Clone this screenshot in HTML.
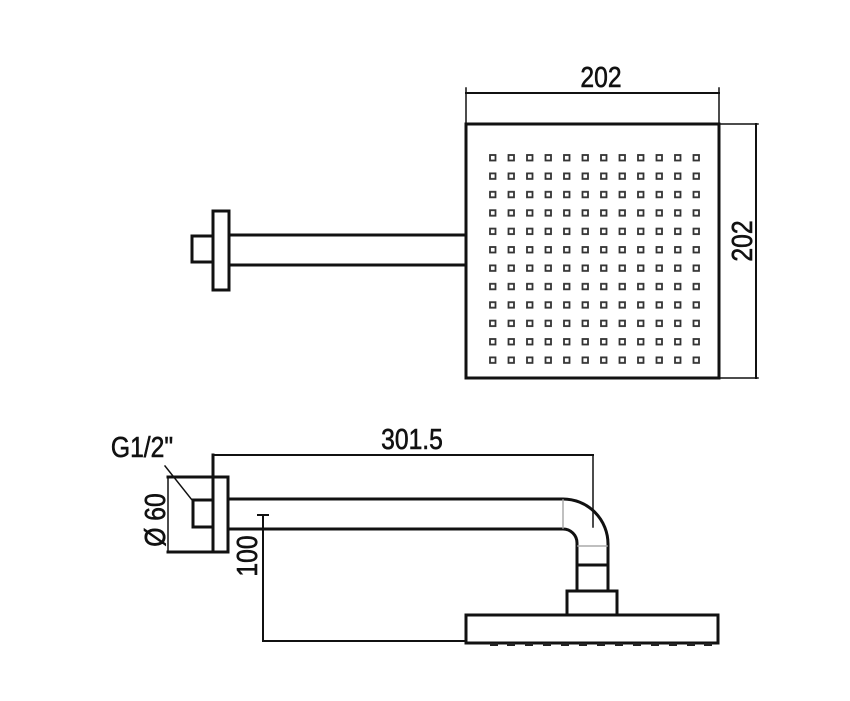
<!DOCTYPE html>
<html><head><style>body{margin:0;background:#fff}svg{display:block}</style></head><body>
<svg width="850" height="701" viewBox="0 0 850 701" xmlns="http://www.w3.org/2000/svg" font-family="'Liberation Sans Narrow','Liberation Sans',sans-serif">
<defs>
<pattern id="d" x="489" y="154" width="18.5" height="18.4" patternUnits="userSpaceOnUse">
<rect x="1" y="1" width="5.5" height="5.5" fill="none" stroke="#333" stroke-width="1.8"/>
</pattern>
</defs>
<g fill="none" stroke="#111" stroke-linecap="square">
<rect x="466" y="124" width="253" height="254" stroke-width="3"/>
<rect x="488" y="153" width="222" height="221" fill="url(#d)" stroke="none"/>
<line x1="466" y1="88" x2="466" y2="124" stroke-width="1.5"/>
<line x1="719" y1="88" x2="719" y2="124" stroke-width="1.5"/>
<line x1="466" y1="93" x2="719" y2="93" stroke-width="2"/>
<line x1="719" y1="124" x2="758" y2="124" stroke-width="1.5"/>
<line x1="719" y1="378" x2="758" y2="378" stroke-width="1.5"/>
<line x1="756" y1="124" x2="756" y2="378" stroke-width="2"/>
<rect x="192" y="236" width="21" height="26" stroke-width="3"/>
<rect x="213" y="211" width="16" height="79" stroke-width="3"/>
<line x1="229" y1="235" x2="466" y2="235" stroke-width="3"/>
<line x1="229" y1="265" x2="466" y2="265" stroke-width="3"/>
<line x1="213" y1="455" x2="593" y2="455" stroke-width="2"/>
<line x1="593" y1="455" x2="593" y2="527" stroke-width="1.5"/>
<line x1="213" y1="455" x2="213" y2="552" stroke-width="3"/>
<polyline points="168,477 228,477 228,552 168,552" stroke-width="3"/>
<line x1="168" y1="477" x2="168" y2="552" stroke-width="1.5"/>
<rect x="193" y="500" width="20" height="27" stroke-width="3"/>
<line x1="165" y1="466" x2="192" y2="500" stroke-width="1.5"/>
<path d="M229 499 H563 A45 45 0 0 1 608 544 V590" stroke-width="3"/>
<path d="M229 529 H563 A14 14 0 0 1 577 543 V590" stroke-width="3"/>
<line x1="563" y1="500" x2="563" y2="528" stroke="#aaa" stroke-width="1.5"/>
<line x1="578" y1="546" x2="607" y2="546" stroke="#aaa" stroke-width="1.5"/>
<line x1="577" y1="565" x2="608" y2="565" stroke-width="3"/>
<rect x="567" y="591" width="50" height="24" stroke-width="3"/>
<rect x="466" y="615" width="252" height="28" stroke-width="3"/>
<line x1="263" y1="515" x2="263" y2="641" stroke-width="2"/>
<line x1="258" y1="515" x2="268" y2="515" stroke-width="2"/>
<line x1="263" y1="641" x2="466" y2="641" stroke-width="2"/>
</g>
<g fill="#222">
<rect x="490" y="643" width="8" height="3"/><rect x="507" y="643" width="8" height="3"/><rect x="525" y="643" width="8" height="3"/><rect x="543" y="643" width="8" height="3"/><rect x="561" y="643" width="8" height="3"/><rect x="579" y="643" width="8" height="3"/><rect x="597" y="643" width="8" height="3"/><rect x="615" y="643" width="8" height="3"/><rect x="633" y="643" width="8" height="3"/><rect x="651" y="643" width="8" height="3"/><rect x="669" y="643" width="8" height="3"/><rect x="687" y="643" width="8" height="3"/><rect x="704" y="643" width="8" height="3"/>
</g>
<g fill="#111" stroke="#111" stroke-width="0.6" font-size="29">
<text x="601" y="87" text-anchor="middle" transform="translate(601 0) scale(0.85 1) translate(-601 0)">202</text>
<text transform="translate(752 241) rotate(-90) scale(0.85 1)" text-anchor="middle">202</text>
<text x="412" y="449" text-anchor="middle" transform="translate(412 0) scale(0.85 1) translate(-412 0)">301.5</text>
<text x="142" y="457" text-anchor="middle" transform="translate(142 0) scale(0.85 1) translate(-142 0)">G1/2"</text>
<text transform="translate(165 520) rotate(-90) scale(0.85 1)" text-anchor="middle">Ø 60</text>
<text transform="translate(257 556) rotate(-90) scale(0.85 1)" text-anchor="middle">100</text>
</g>
</svg>
</body></html>
